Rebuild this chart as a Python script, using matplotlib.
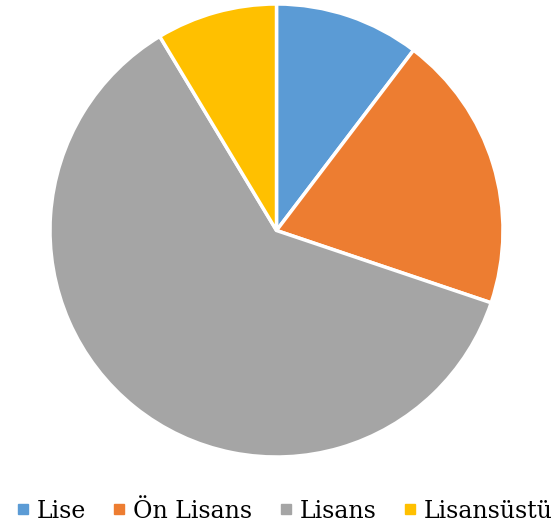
import matplotlib
matplotlib.use("Agg")
import matplotlib.pyplot as plt
from matplotlib.lines import Line2D

categories = ["Lise", "Ön Lisans", "Lisans", "Lisansüstü"]
values = [12, 23, 71, 10]
colors = ["#5B9BD5", "#ED7D31", "#A5A5A5", "#FFC000"]

fig = plt.figure(figsize=(5.55, 5.3), dpi=100)
ax = fig.add_axes([50/555, 73/530, 453/555, 453/530])
ax.pie(values, colors=colors, startangle=90, counterclock=False,
       wedgeprops=dict(edgecolor="white", linewidth=2.5))
ax.set_xlim(-1, 1)
ax.set_ylim(-1, 1)
ax.set_aspect("equal")
ax.axis("off")

handles = [Line2D([], [], marker="s", linestyle="none", markersize=7,
                  markerfacecolor=c, markeredgecolor=c) for c in colors]
fig.legend(handles, categories, loc="center", bbox_to_anchor=(0.51, 1 - 511/530),
           ncol=4, frameon=False, prop=dict(family=["DejaVu Serif"], size=17),
           handletextpad=0.2, columnspacing=1.0, handlelength=0.8,
           borderaxespad=0, borderpad=0)

fig.savefig("out.png", dpi=100)
